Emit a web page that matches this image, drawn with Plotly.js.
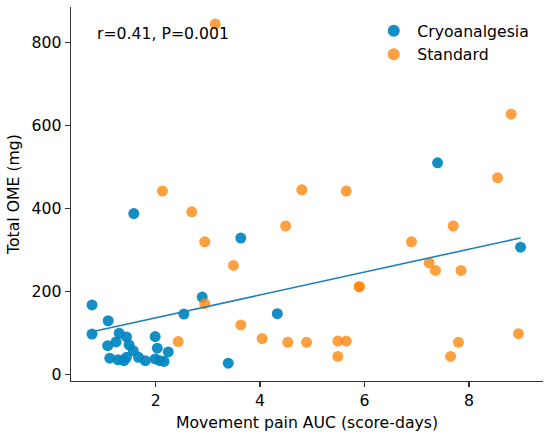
<!DOCTYPE html>
<html><head><meta charset="utf-8">
<script src="https://cdn.plot.ly/plotly-3.0.1.min.js"></script>
<style>html,body{margin:0;padding:0;background:#fff}#chart{width:550px;height:436px}</style>
</head><body><div id="chart"></div>
<script>
const seriesNames = ["Cryoanalgesia", "Standard"];
const cryoX = [0.78,1.09,0.78,1.30,1.44,1.08,1.24,1.49,1.57,1.12,1.28,1.39,1.44,1.67,1.80,1.99,2.03,1.99,2.08,2.16,2.24,2.54,2.89,1.58,3.63,4.33,3.39,7.40,8.99];
const cryoY = [168,130,98,100,91,70,79,72,58,40,36,34,42,42,34,92,64,38,34,32,55,146,187,388,329,147,28,510,307];
const stdX = [2.94,4.49,3.49,2.94,3.63,4.04,4.53,4.89,5.49,5.65,5.49,5.90,5.90,6.90,7.70,7.24,7.36,7.85,7.80,7.65,8.95,3.14,8.81,8.55,2.13,4.80,5.65,2.69,2.43];
const stdY = [320,358,263,171,120,87,78,78,81,81,44,212,212,320,358,269,251,251,78,44,99,844,627,474,442,445,442,392,80];
const statText = "r=0.41, P=0.001";
const xTitle = "Movement pain AUC (score-days)";
const yTitle = "Total OME (mg)";
const xTicks = [2,4,6,8];
const yTicks = [0,200,400,600,800];

// least-squares fit over all points
const allX = cryoX.concat(stdX), allY = cryoY.concat(stdY);
const n = allX.length;
const mx = allX.reduce((a,b)=>a+b,0)/n, my = allY.reduce((a,b)=>a+b,0)/n;
let sxy=0, sxx=0;
for (let i=0;i<n;i++){ sxy+=(allX[i]-mx)*(allY[i]-my); sxx+=(allX[i]-mx)**2; }
const slope = sxy/sxx, icpt = my - slope*mx;
const x0 = Math.min(...allX), x1 = Math.max(...allX);

const font = "DejaVu Sans, sans-serif";
const fs = 15.7;
const blue = "rgba(0,134,193,0.92)";
const orange = "rgba(255,133,10,0.78)";

const traces = [
  {x: cryoX, y: cryoY, type: "scatter", mode: "markers", name: seriesNames[0],
   marker: {size: 11, color: blue, line: {width: 0}}},
  {x: stdX, y: stdY, type: "scatter", mode: "markers", name: seriesNames[1],
   marker: {size: 11, color: orange, line: {width: 0}}},
  {x: [x0, x1], y: [icpt + slope*x0, icpt + slope*x1], type: "scatter", mode: "lines",
   showlegend: false, line: {color: "#1f7fb8", width: 1.6}, hoverinfo: "skip"}
];

const axisCommon = {
  showgrid: false, zeroline: false, showline: true, linecolor: "#333", linewidth: 1.3,
  ticks: "outside", ticklen: 5, tickwidth: 1.3, tickcolor: "#333",
  tickfont: {family: font, size: fs, color: "#000"}
};

const layout = {
  width: 550, height: 436,
  margin: {l: 71, r: 7, t: 7, b: 55},
  paper_bgcolor: "#fff", plot_bgcolor: "#fff",
  font: {family: font, size: fs, color: "#000"},
  xaxis: Object.assign({}, axisCommon, {range: [0.377, 9.42], tickvals: xTicks, ticktext: xTicks.map(String),
    title: {text: xTitle, font: {family: font, size: fs, color: "#000"}, standoff: 8}}),
  yaxis: Object.assign({}, axisCommon, {range: [-15, 885], tickvals: yTicks, ticktext: yTicks.map(String),
    title: {text: yTitle, font: {family: font, size: fs, color: "#000"}, standoff: 8}}),
  legend: {x: 0.634, xanchor: "left", y: 0.981, yanchor: "top", bgcolor: "rgba(255,255,255,0)",
    font: {family: font, size: fs, color: "#000"}, itemsizing: "constant", itemwidth: 37, tracegroupgap: 0},
  annotations: [{text: statText, xref: "paper", yref: "paper", x: 0.05, y: 0.93,
    xanchor: "left", yanchor: "middle", showarrow: false, font: {family: font, size: fs, color: "#000"}}],
  showlegend: true
};

Plotly.newPlot("chart", traces, layout, {staticPlot: true, displayModeBar: false});
</script>
</body></html>
